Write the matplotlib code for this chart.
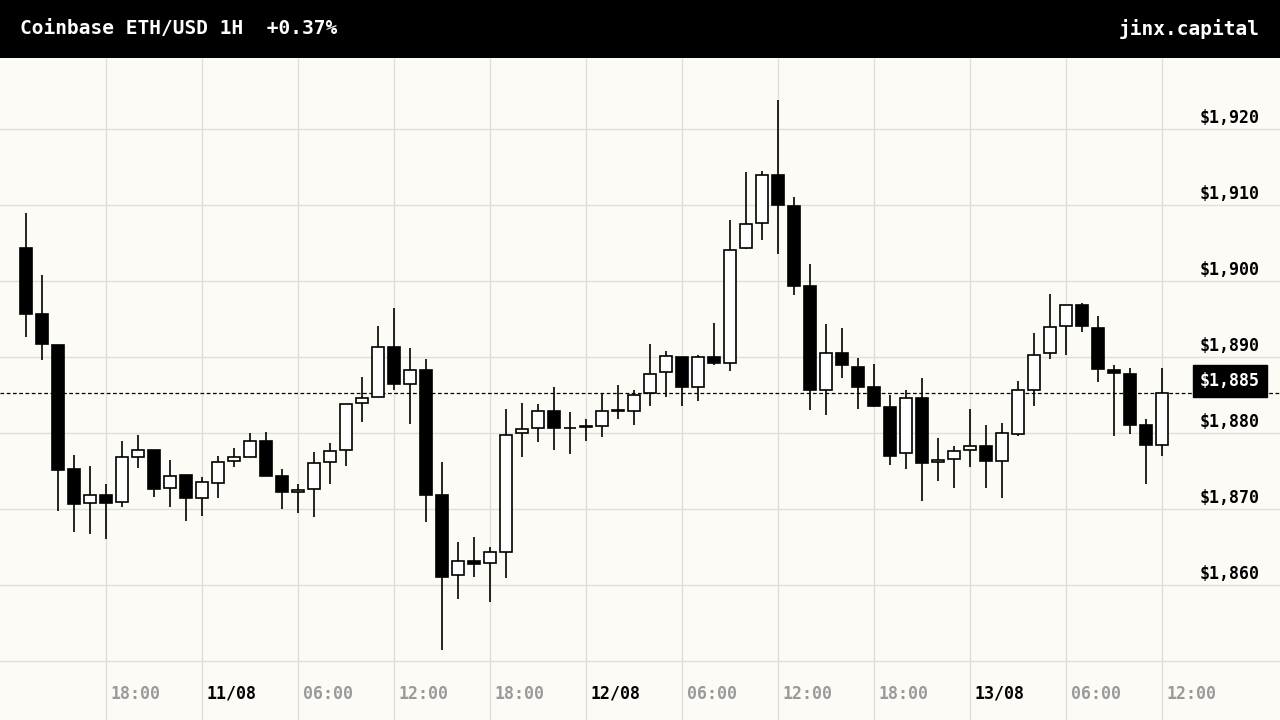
"""Coinbase ETH/USD 1H candlestick chart."""

import matplotlib

matplotlib.use("Agg")
import matplotlib.pyplot as plt
import matplotlib.transforms as mtransforms
import numpy as np

# Hourly candles starting 10/08 11:00
opens = [1904.3, 1895.7, 1891.6, 1875.2, 1870.8, 1871.9, 1870.9, 1876.9, 1877.8, 1872.7,
         1874.5, 1871.5, 1873.4, 1876.3, 1876.9, 1879.0, 1874.4, 1872.2, 1872.6, 1876.2,
         1877.8, 1883.9, 1884.7, 1891.3, 1886.4, 1888.3, 1871.8, 1861.3, 1863.1, 1862.9,
         1864.4, 1880.0, 1880.6, 1882.9, 1880.6, 1880.8, 1880.9, 1883.0, 1882.9, 1885.3,
         1888.0, 1890.0, 1886.0, 1890.0, 1889.2, 1904.3, 1907.6, 1913.9, 1909.9, 1899.3,
         1885.7, 1890.5, 1888.7, 1886.0, 1883.4, 1877.4, 1884.6, 1876.2, 1876.6, 1877.8,
         1878.3, 1876.3, 1879.9, 1885.6, 1890.5, 1894.1, 1896.8, 1893.8, 1888.3, 1887.8,
         1881.0, 1878.4]
highs = [1908.9, 1900.8, 1891.6, 1877.1, 1875.6, 1873.3, 1878.9, 1879.8, 1877.8, 1876.5,
         1874.5, 1874.2, 1877.0, 1878.0, 1880.0, 1880.1, 1875.3, 1873.3, 1877.5, 1878.7,
         1883.8, 1887.4, 1894.1, 1896.5, 1891.2, 1889.8, 1876.2, 1865.7, 1866.3, 1865.0,
         1883.2, 1884.0, 1883.8, 1886.1, 1882.8, 1881.9, 1885.2, 1886.3, 1885.6, 1891.7,
         1890.8, 1890.0, 1890.2, 1894.5, 1908.0, 1914.3, 1914.5, 1923.8, 1911.1, 1902.2,
         1894.4, 1893.8, 1889.9, 1889.1, 1885.0, 1885.6, 1887.3, 1879.4, 1878.3, 1883.2,
         1881.1, 1881.3, 1886.8, 1893.1, 1898.3, 1896.8, 1897.1, 1895.4, 1889.0, 1888.5,
         1881.9, 1888.5]
lows = [1892.6, 1889.6, 1869.7, 1867.0, 1866.7, 1866.0, 1870.3, 1875.4, 1871.6, 1870.3,
        1868.4, 1869.1, 1871.5, 1875.5, 1876.9, 1874.4, 1870.0, 1869.5, 1868.9, 1873.3,
        1875.6, 1881.5, 1884.7, 1885.6, 1881.2, 1868.3, 1851.5, 1858.1, 1861.1, 1857.8,
        1860.9, 1876.9, 1878.8, 1877.8, 1877.2, 1878.9, 1879.5, 1881.8, 1881.1, 1883.6,
        1884.8, 1883.6, 1884.2, 1888.9, 1888.2, 1904.2, 1905.4, 1903.6, 1898.2, 1883.0,
        1882.4, 1887.2, 1883.2, 1883.4, 1875.8, 1875.3, 1871.1, 1873.7, 1872.8, 1875.5,
        1872.8, 1871.4, 1879.6, 1883.5, 1889.8, 1890.2, 1893.3, 1886.7, 1879.6, 1879.9,
        1873.3, 1877.0]
closes = [1895.7, 1891.7, 1875.1, 1870.6, 1871.9, 1870.8, 1876.8, 1877.8, 1872.6, 1874.4,
          1871.5, 1873.5, 1876.2, 1876.8, 1879.0, 1874.4, 1872.2, 1872.5, 1876.0, 1877.6,
          1883.8, 1884.6, 1891.3, 1886.4, 1888.3, 1871.9, 1861.1, 1863.1, 1862.8, 1864.3,
          1879.7, 1880.5, 1882.9, 1880.6, 1880.6, 1880.8, 1882.9, 1882.9, 1885.0, 1887.8,
          1890.1, 1886.0, 1890.0, 1889.2, 1904.1, 1907.5, 1913.9, 1910.0, 1899.4, 1885.7,
          1890.5, 1888.9, 1886.0, 1883.5, 1877.0, 1884.6, 1876.1, 1876.4, 1877.6, 1878.3,
          1876.3, 1880.0, 1885.6, 1890.2, 1893.9, 1896.8, 1894.1, 1888.4, 1887.9, 1881.1,
          1878.4, 1885.2]

price_ticks = [1860, 1870, 1880, 1890, 1900, 1910, 1920]
time_labels = ["18:00", "11/08", "06:00", "12:00", "18:00", "12/08",
               "06:00", "12:00", "18:00", "13/08", "06:00", "12:00"]
last_price = 1885.2

BG = "#fdfbf6"
GRID = "#e2dfda"
MONO = "DejaVu Sans Mono"

fig = plt.figure(figsize=(12.8, 7.2), dpi=100, facecolor=BG)

# Header band
hax = fig.add_axes([0, 662 / 720, 1, 58 / 720])
hax.set_facecolor("black")
hax.set_xticks([])
hax.set_yticks([])
for s in hax.spines.values():
    s.set_visible(False)
hax.text(20 / 1280, 0.5, "Coinbase ETH/USD 1H  +0.37%", color="white", fontsize=14,
         fontweight="bold", family=MONO, va="center", ha="left", transform=hax.transAxes)
hax.text(1260 / 1280, 0.5, "jinx.capital", color="white", fontsize=14,
         fontweight="bold", family=MONO, va="center", ha="right", transform=hax.transAxes)

ax = fig.add_axes([0, 0, 1, 662 / 720])
ax.set_facecolor(BG)
for s in ax.spines.values():
    s.set_visible(False)
ax.set_xticks([])
ax.set_yticks([])

# 16 px per hour, candle 0 centred at x=26px
ax.set_xlim(-26 / 16, (1280 - 26) / 16)
ax.set_ylim(1920 - (720 - 129) / 7.6, 1920 + (129 - 58) / 7.6)

# Grid
for p in [1850] + price_ticks:
    ax.axhline(p, color=GRID, lw=1, zorder=0)
for k in range(12):
    ax.axvline(5 + 6 * k, color=GRID, lw=1, zorder=0)

o = np.array(opens)
h = np.array(highs)
l = np.array(lows)
c = np.array(closes)
x = np.arange(len(o))
up = c >= o

ax.vlines(x, l, h, color="black", lw=1.2, zorder=2)
body_lo = np.minimum(o, c)
body_h = np.maximum(np.abs(c - o), 0.12)
ax.bar(x, body_h, bottom=body_lo, width=0.75,
       color=np.where(up, "white", "black"), edgecolor="black", lw=1.2, zorder=3)

# Last price line
ax.axhline(last_price, color="black", lw=0.9, ls=(0, (3, 2)), zorder=1)

# Price labels on the right
tr_y = mtransforms.blended_transform_factory(ax.transAxes, ax.transData)
for p in price_ticks:
    ax.text(1260 / 1280, p + 1.45, f"${p:,}", transform=tr_y, ha="right", va="center",
            fontsize=12, fontweight="bold", family=MONO, color="black", zorder=5)
ax.text(1260 / 1280, last_price + 1.7, f"${last_price:,.0f}", transform=tr_y, ha="right",
        va="center", fontsize=12, fontweight="bold", family=MONO, color="white", zorder=6,
        bbox=dict(boxstyle="square,pad=0.42", facecolor="black", edgecolor="black"))

# Time labels
tr_x = mtransforms.blended_transform_factory(ax.transData, ax.transAxes)
for k, lab in enumerate(time_labels):
    is_date = "/" in lab
    ax.text(6.875 + 6 * k, 26 / 662, lab, transform=tr_x, ha="center", va="center",
            fontsize=12, fontweight="bold", family=MONO,
            color="black" if is_date else "#9a9a9a")

fig.savefig("out.png", dpi=100, facecolor=BG)
